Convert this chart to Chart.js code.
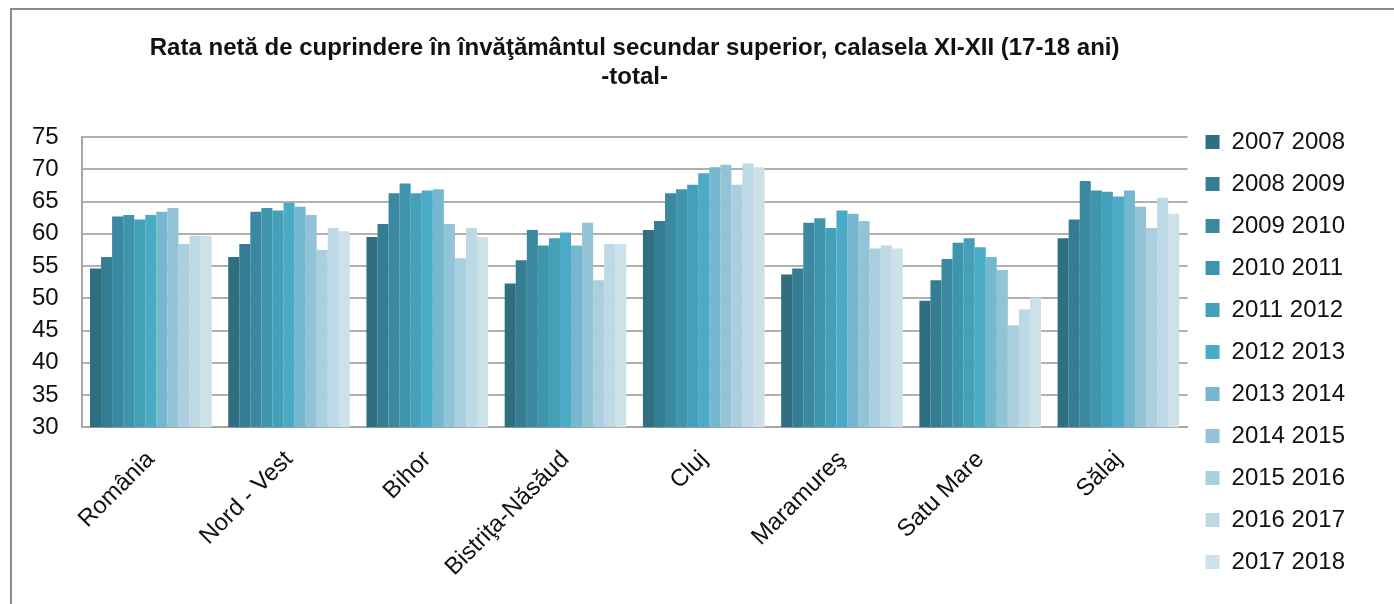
<!DOCTYPE html>
<html>
<head>
<meta charset="utf-8">
<script src="https://cdn.jsdelivr.net/npm/chart.js@4/dist/chart.umd.min.js"></script>
<style>
  html, body { margin: 0; padding: 0; background: #fff; }
  #wrap { position: relative; width: 1394px; height: 604px; overflow: hidden; }
  #frame { position: absolute; left: 10px; top: 8px; width: 1400px; height: 700px;
           border-left: 2px solid #8c8c8c; border-top: 2px solid #8c8c8c; }
  #myChart { position: absolute; left: 0; top: 0; }
</style>
</head>
<body>
<div id="wrap">
  <div id="frame"></div>
  <canvas id="myChart" width="1394" height="604"></canvas>
</div>
<script>
const judete = ['România', 'Nord - Vest', 'Bihor', 'Bistriţa-Năsăud', 'Cluj', 'Maramureş', 'Satu Mare', 'Sălaj'];

const an0708 = [54.6, 56.4, 59.5, 52.3, 60.6, 53.7, 49.6, 59.3];
const an0809 = [56.4, 58.4, 61.5, 55.9, 62.0, 54.6, 52.8, 62.2];
const an0910 = [62.7, 63.4, 66.3, 60.6, 66.3, 61.7, 56.1, 68.2];
const an1011 = [62.9, 64.0, 67.8, 58.2, 66.9, 62.4, 58.6, 66.7];
const an1112 = [62.2, 63.6, 66.3, 59.3, 67.6, 60.9, 59.3, 66.5];
const an1213 = [62.9, 64.8, 66.7, 60.2, 69.4, 63.6, 57.9, 65.8];
const an1314 = [63.4, 64.2, 66.9, 58.2, 70.3, 63.1, 56.4, 66.7];
const an1415 = [64.0, 62.9, 61.5, 61.7, 70.7, 62.0, 54.4, 64.2];
const an1516 = [58.4, 57.5, 56.2, 52.8, 67.6, 57.7, 45.8, 60.9];
const an1617 = [59.7, 60.9, 60.9, 58.4, 70.9, 58.2, 48.3, 65.6];
const an1718 = [59.7, 60.4, 59.5, 58.4, 70.3, 57.7, 50.1, 63.1];

const aniScolari = ['2007 2008', '2008 2009', '2009 2010', '2010 2011', '2011 2012', '2012 2013',
                    '2013 2014', '2014 2015', '2015 2016', '2016 2017', '2017 2018'];
const serii = [an0708, an0809, an0910, an1011, an1112, an1213, an1314, an1415, an1516, an1617, an1718];

const culori = ['#2f6f80', '#347d92', '#3a89a1', '#4095ae', '#44a0b9', '#4aabc6',
                '#75b7cf', '#93c3d6', '#aacfdf', '#bdd9e5', '#cde1e9'];

const fontText = "'Liberation Sans', Arial, sans-serif";

const data = {
    labels: judete,
    datasets: serii.map((valori, i) => ({
        label: aniScolari[i],
        data: valori,
        backgroundColor: culori[i],
        borderWidth: 0,
        barPercentage: 1,
        categoryPercentage: 0.88
    }))
};

let ctx = document.getElementById('myChart').getContext('2d');

var myChart = new Chart(ctx, {
    type: 'bar',
    data: data,
    options: {
        responsive: false,
        animation: false,
        layout: {
            padding: { left: 9, right: 39, top: 0, bottom: 4 }
        },
        plugins: {
            title: {
                display: true,
                fullSize: false,
                text: ['Rata netă de cuprindere în învăţământul secundar superior, calasela XI-XII (17-18 ani)', '-total-'],
                color: '#111',
                font: { family: fontText, size: 24, weight: 'bold', lineHeight: 1.22 },
                padding: { top: 33.5, bottom: 45 }
            },
            legend: {
                position: 'right',
                align: 'start',
                // titlu gol, doar ca sa coboare lista sub titlul graficului
                title: {
                    display: true,
                    text: ' ',
                    font: { size: 12, lineHeight: 1 },
                    padding: { top: 100, bottom: 0 }
                },
                labels: {
                    color: '#111',
                    boxWidth: 14,
                    boxHeight: 14,
                    padding: 18,
                    font: { family: fontText, size: 24 }
                }
            },
            tooltip: { enabled: false }
        },
        scales: {
            x: {
                grid: { display: false, drawTicks: false },
                border: { display: true, color: '#a6a6a6', width: 2 },
                ticks: {
                    color: '#111',
                    minRotation: 45,
                    maxRotation: 45,
                    padding: 26,
                    font: { family: fontText, size: 24, lineHeight: 0.28 }
                }
            },
            y: {
                min: 30,
                max: 75,
                grid: { color: '#b0b0b0', lineWidth: 2, drawTicks: false },
                border: { display: true, color: '#a6a6a6', width: 2 },
                ticks: {
                    stepSize: 5,
                    autoSkip: false,
                    color: '#111',
                    padding: 23,
                    font: { family: fontText, size: 24 }
                }
            }
        }
    }
});
</script>
</body>
</html>
